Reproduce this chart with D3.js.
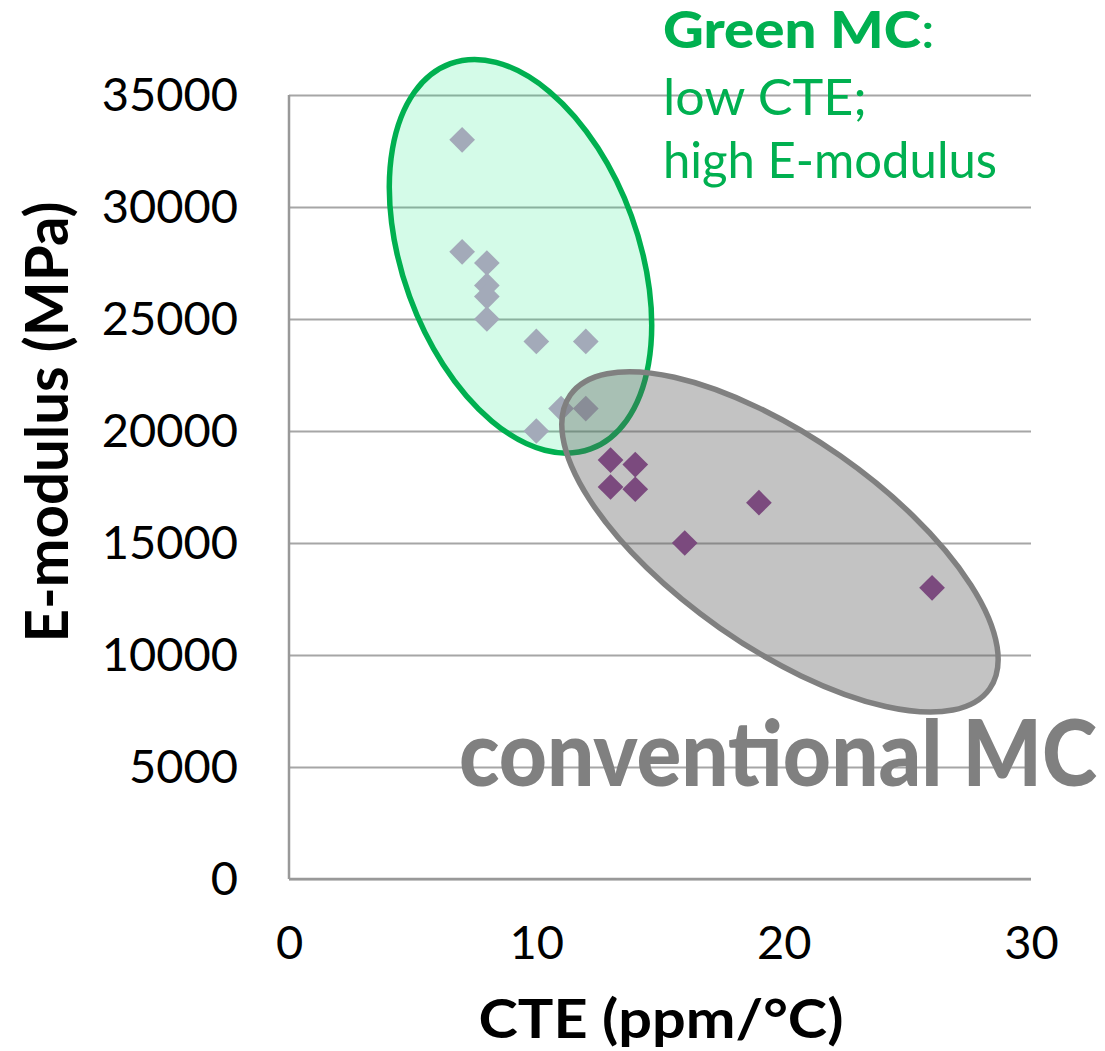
<!DOCTYPE html>
<html><head><meta charset="utf-8">
<script src="https://cdn.jsdelivr.net/npm/d3@7"></script>
<style>
html,body{margin:0;padding:0;background:#fff;}
svg text{font-family:Lato,"Open Sans",sans-serif;}
</style></head>
<body>
<svg id="chart" width="1105" height="1051"></svg>
<script>
// ---- data ----
const greenCTE = [7, 7, 8, 8, 8, 8, 10, 12, 11, 12, 10];
const greenE   = [33000, 28000, 27500, 26500, 26000, 25000, 24000, 24000, 21000, 21000, 20000];
const convCTE  = [13, 14, 13, 14, 16, 19, 26];
const convE    = [18700, 18500, 17500, 17400, 15000, 16800, 13000];
const xTicks = [0, 10, 20, 30];
const yTicks = [0, 5000, 10000, 15000, 20000, 25000, 30000, 35000];
const xTitle = "CTE (ppm/°C)";
const yTitle = "E-modulus (MPa)";
const greenLabelBold = "Green MC";
const greenLabelLines = ["low CTE;", "high E-modulus"];
const convLabel = "conventional MC";

// ---- layout ----
const W = 1105, H = 1051;
const m = {left: 289, top: 95, right: 1105 - 1031, bottom: 1051 - 879};
const svg = d3.select("#chart");
const x = d3.scaleLinear().domain([0, 30]).range([m.left, W - m.right]);
const y = d3.scaleLinear().domain([0, 35000]).range([H - m.bottom, m.top]);

// gridlines
svg.append("g")
  .attr("transform", `translate(${m.left},0)`)
  .call(d3.axisLeft(y).tickValues(yTicks).tickSize(-(W - m.left - m.right)).tickFormat(""))
  .call(g => g.select(".domain").remove())
  .call(g => g.selectAll("line").attr("stroke", "#a6a6a6").attr("stroke-width", 2));

// axis lines
svg.append("line").attr("x1", x(0)).attr("x2", x(0)).attr("y1", y(35000)).attr("y2", y(0))
  .attr("stroke", "#999").attr("stroke-width", 2.5);
svg.append("line").attr("x1", x(0)).attr("x2", x(30)).attr("y1", y(0)).attr("y2", y(0))
  .attr("stroke", "#999").attr("stroke-width", 2.5);

// tick labels
const yAx = svg.append("g").attr("transform", `translate(${m.left},0)`)
  .call(d3.axisLeft(y).tickValues(yTicks).tickSize(0).tickPadding(51).tickFormat(d3.format("d")));
yAx.select(".domain").remove();
yAx.selectAll("text").attr("font-size", 47).attr("fill", "#000")
  .attr("font-family", "Lato, sans-serif").attr("dy", "0.34em");

const xAx = svg.append("g").attr("transform", `translate(0,${y(0)})`)
  .call(d3.axisBottom(x).tickValues(xTicks).tickSize(0).tickPadding(47).tickFormat(d3.format("d")));
xAx.select(".domain").remove();
xAx.selectAll("text").attr("font-size", 47).attr("fill", "#000")
  .attr("font-family", "Lato, sans-serif").attr("dy", "0.71em");

// axis titles
svg.append("text").attr("x", 661).attr("y", 1038).attr("text-anchor", "middle")
  .attr("font-size", 53).attr("font-weight", "bold").attr("fill", "#000")
  .attr("textLength", 365).attr("lengthAdjust", "spacingAndGlyphs").text(xTitle);
svg.append("text").attr("transform", "translate(68,422) rotate(-90)").attr("text-anchor", "middle")
  .attr("font-size", 60).attr("font-weight", "bold").attr("fill", "#000")
  .attr("textLength", 441).attr("lengthAdjust", "spacingAndGlyphs").text(yTitle);

// annotation ellipses (centre in data units, radii in px)
const greenEll = {cx: 9.36, cy: 27800, rx: 118, ry: 205, rot: -20};
const convEll  = {cx: 19.85, cy: 15050, rx: 256, ry: 105, rot: 35};

const diamond = d3.symbol().type(d3.symbolSquare).size(330);

svg.append("ellipse")
  .attr("transform", `translate(${x(greenEll.cx)},${y(greenEll.cy)}) rotate(${greenEll.rot})`)
  .attr("rx", greenEll.rx).attr("ry", greenEll.ry)
  .attr("fill", "rgba(0,230,118,0.17)").attr("stroke", "#00b050").attr("stroke-width", 5.5);

// green MC points
svg.append("g").selectAll("path").data(greenCTE.map((c, i) => [c, greenE[i]])).join("path")
  .attr("d", diamond)
  .attr("transform", d => `translate(${x(d[0])},${y(d[1])}) rotate(45)`)
  .attr("fill", "#a3aab9");

svg.append("ellipse")
  .attr("transform", `translate(${x(convEll.cx)},${y(convEll.cy)}) rotate(${convEll.rot})`)
  .attr("rx", convEll.rx).attr("ry", convEll.ry)
  .attr("fill", "rgba(93,93,93,0.37)").attr("stroke", "#808080").attr("stroke-width", 5.5);

// conventional MC points
svg.append("g").selectAll("path").data(convCTE.map((c, i) => [c, convE[i]])).join("path")
  .attr("d", diamond)
  .attr("transform", d => `translate(${x(d[0])},${y(d[1])}) rotate(45)`)
  .attr("fill", "#7b4a7e");

// labels
const gl = svg.append("text").attr("x", 663).attr("y", 48).attr("font-size", 51).attr("fill", "#00b050")
  .attr("textLength", 272).attr("lengthAdjust", "spacingAndGlyphs");
gl.append("tspan").attr("font-weight", 900).text(greenLabelBold);
gl.append("tspan").text(":");
const glLens = [204, 334];
greenLabelLines.forEach((t, i) => {
  svg.append("text").attr("x", 663).attr("y", 115 + i * 63).attr("font-size", 51).attr("fill", "#00b050")
    .attr("textLength", glLens[i]).attr("lengthAdjust", "spacingAndGlyphs").text(t);
});

svg.append("text").attr("x", 459).attr("y", 786).attr("font-size", 92)
  .attr("fill", "#808080").attr("textLength", 638).attr("lengthAdjust", "spacingAndGlyphs")
  .style("font-weight", "900").style("font-family", "Lato, sans-serif").text(convLabel);
</script>
</body></html>
